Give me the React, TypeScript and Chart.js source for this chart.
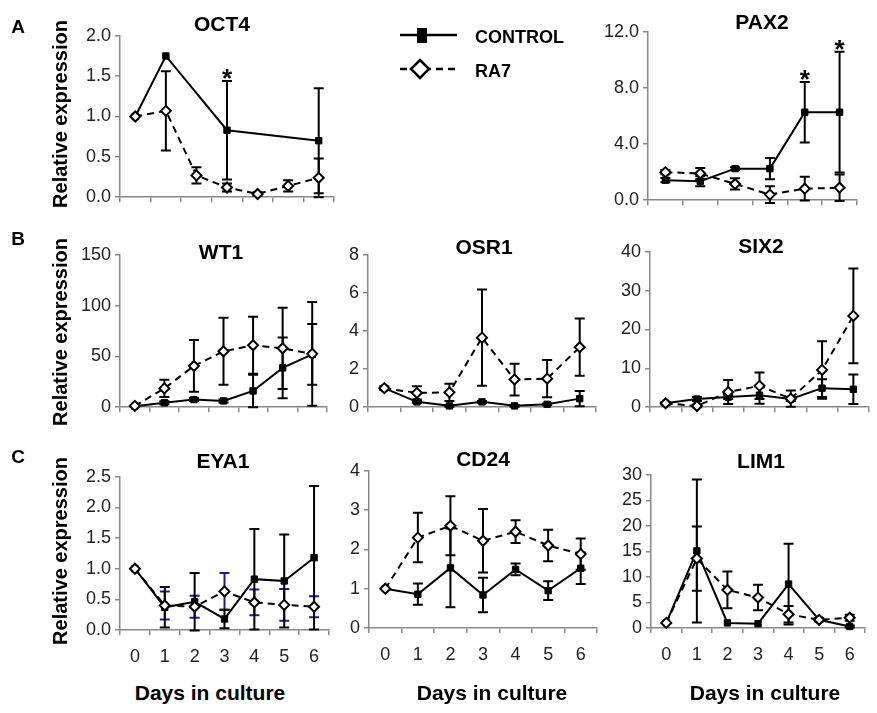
import React, { useEffect, useRef } from 'react';
import { Chart, registerables } from 'chart.js';
Chart.register(...registerables);

// ---------- data ----------
const days7 = ['0', '1', '2', '3', '4', '5', '6'];
const days6 = ['0', '1', '2', '3', '4', '5'];

const oct4Control = [1.0, 1.75, null, 0.83, null, null, 0.7];
const oct4ControlErr = [0, 0, null, 0.61, null, null, 0.65];
const oct4Ra7 = [1.0, 1.07, 0.27, 0.12, 0.04, 0.14, 0.24];
const oct4Ra7Err = [0, 0.49, 0.1, 0.05, 0.02, 0.07, 0.24];
const oct4Sig = [3];

const pax2Control = [1.43, 1.35, 2.25, 2.25, 6.27, 6.27];
const pax2ControlErr = [0.15, 0.35, 0.1, 0.75, 2.15, 4.3];
const pax2Ra7 = [2.0, 1.9, 1.16, 0.4, 0.82, 0.89];
const pax2Ra7Err = [0.15, 0.4, 0.4, 0.6, 0.85, 0.95];
const pax2Sig = [4, 5];

const wt1Control = [1, 4.4, 7.5, 6.2, 16, 38.7, 52];
const wt1ControlErr = [0, 1.5, 1.5, 1.5, 16, 30, 30];
const wt1Ra7 = [1.3, 18.5, 40.6, 55, 61, 58, 52.5];
const wt1Ra7Err = [0.5, 8.5, 25.5, 33, 28, 40, 51];

const osr1Control = [1.0, 0.28, 0.07, 0.28, 0.07, 0.15, 0.45];
const osr1ControlErr = [0, 0.05, 0.05, 0.05, 0.05, 0.05, 0.4];
const osr1Ra7 = [1.0, 0.75, 0.78, 3.65, 1.45, 1.5, 3.15];
const osr1Ra7Err = [0.1, 0.35, 0.45, 2.53, 0.83, 0.98, 1.5];

const six2Control = [1.0, 2.1, 2.6, 3.1, 2.1, 4.9, 4.6];
const six2ControlErr = [0.3, 0.5, 0.5, 2.2, 0.5, 2.3, 3.8];
const six2Ra7 = [1.0, 0.3, 3.9, 5.5, 2.2, 9.6, 23.5];
const six2Ra7Err = [0.3, 0.3, 3.1, 3.4, 2.1, 7.4, 12.2];

const eya1Control = [1.0, 0.37, 0.46, 0.18, 0.83, 0.8, 1.18];
const eya1ControlErr = [0, 0.33, 0.47, 0.15, 0.82, 0.76, 1.17];
const eya1Ra7 = [1.0, 0.4, 0.38, 0.63, 0.45, 0.41, 0.38];
const eya1Ra7Err = [0, 0.23, 0.18, 0.3, 0.21, 0.26, 0.17];

const cd24Control = [1.0, 0.86, 1.53, 0.84, 1.49, 0.95, 1.52];
const cd24ControlErr = [0, 0.27, 1.0, 0.44, 0.15, 0.24, 0.4];
const cd24Ra7 = [1.0, 2.3, 2.6, 2.22, 2.45, 2.1, 1.88];
const cd24Ra7Err = [0, 0.63, 0.75, 0.81, 0.29, 0.4, 0.4];

const lim1Control = [1.0, 15.1, 1.0, 0.84, 8.6, 1.6, 0.3];
const lim1ControlErr = [0, 14, 0, 0, 7.9, 0.3, 0.2];
const lim1Ra7 = [1.0, 13.6, 7.45, 5.96, 2.7, 1.6, 2.0];
const lim1Ra7Err = [0, 6.3, 3.6, 2.5, 1.6, 0.3, 0.6];

// ---------- layout ----------
const FONT = '"Liberation Sans", Arial, sans-serif';
const YW = 50;
const PT = 14;
const PR = 4;
const TICK_SIZE = 18;

type Spec = {
  title: string;
  labels: string[];
  control: (number | null)[];
  controlErr: (number | null)[];
  ra7: (number | null)[];
  ra7Err: (number | null)[];
  ra7ErrColor?: string;
  yMax: number;
  yStep: number;
  dec: number;
  showX: boolean;
  sig?: number[];
  plot: { l: number; t: number; r: number; b: number };
  titlePos: { x: number; y: number };
};

const specs: Spec[] = [
  { title: 'OCT4', labels: days7, control: oct4Control, controlErr: oct4ControlErr, ra7: oct4Ra7, ra7Err: oct4Ra7Err, yMax: 2, yStep: 0.5, dec: 1, showX: false, sig: oct4Sig, plot: { l: 120, t: 35, r: 337, b: 204 }, titlePos: { x: 222, y: 23 } },
  { title: 'PAX2', labels: days6, control: pax2Control, controlErr: pax2ControlErr, ra7: pax2Ra7, ra7Err: pax2Ra7Err, yMax: 12, yStep: 4, dec: 1, showX: false, sig: pax2Sig, plot: { l: 648, t: 31, r: 860, b: 207 }, titlePos: { x: 762, y: 21 } },
  { title: 'WT1', labels: days7, control: wt1Control, controlErr: wt1ControlErr, ra7: wt1Ra7, ra7Err: wt1Ra7Err, yMax: 150, yStep: 50, dec: 0, showX: false, plot: { l: 120, t: 254, r: 330, b: 414 }, titlePos: { x: 221, y: 251 } },
  { title: 'OSR1', labels: days7, control: osr1Control, controlErr: osr1ControlErr, ra7: osr1Ra7, ra7Err: osr1Ra7Err, yMax: 8, yStep: 2, dec: 0, showX: false, plot: { l: 368, t: 254, r: 599, b: 414 }, titlePos: { x: 484, y: 246 } },
  { title: 'SIX2', labels: days7, control: six2Control, controlErr: six2ControlErr, ra7: six2Ra7, ra7Err: six2Ra7Err, yMax: 40, yStep: 10, dec: 0, showX: false, plot: { l: 650, t: 251, r: 872, b: 414 }, titlePos: { x: 761, y: 245 } },
  { title: 'EYA1', labels: days7, control: eya1Control, controlErr: eya1ControlErr, ra7: eya1Ra7, ra7Err: eya1Ra7Err, ra7ErrColor: '#1c1c8a', yMax: 2.5, yStep: 0.5, dec: 1, showX: true, plot: { l: 120, t: 476, r: 332, b: 630 }, titlePos: { x: 223, y: 460 } },
  { title: 'CD24', labels: days7, control: cd24Control, controlErr: cd24ControlErr, ra7: cd24Ra7, ra7Err: cd24Ra7Err, yMax: 4, yStep: 1, dec: 0, showX: true, plot: { l: 369, t: 470, r: 600, b: 628 }, titlePos: { x: 483, y: 458 } },
  { title: 'LIM1', labels: days7, control: lim1Control, controlErr: lim1ControlErr, ra7: lim1Ra7, ra7Err: lim1Ra7Err, yMax: 30, yStep: 5, dec: 0, showX: true, plot: { l: 651, t: 474, r: 868, b: 628 }, titlePos: { x: 761, y: 460 } },
];

const errorBarPlugin = {
  id: 'errorBars',
  beforeDatasetsDraw(chart: any) {
    const ctx = chart.ctx;
    const ys = chart.scales.y;
    chart.data.datasets.forEach((ds: any, i: number) => {
      const errs = ds.errors;
      if (!errs) return;
      const meta = chart.getDatasetMeta(i);
      ctx.save();
      ctx.strokeStyle = ds.errorColor || '#000';
      ctx.lineWidth = 2;
      ctx.setLineDash([]);
      meta.data.forEach((pt: any, j: number) => {
        const v = ds.data[j];
        const e = errs[j];
        if (v == null || !e) return;
        const x = pt.x;
        const yHi = ys.getPixelForValue(v + e);
        const yLo = ys.getPixelForValue(v - e);
        ctx.beginPath();
        ctx.moveTo(x, yHi);
        ctx.lineTo(x, yLo);
        ctx.moveTo(x - 5, yHi);
        ctx.lineTo(x + 5, yHi);
        ctx.moveTo(x - 5, yLo);
        ctx.lineTo(x + 5, yLo);
        ctx.stroke();
      });
      ctx.restore();
    });
  },
  afterDatasetsDraw(chart: any) {
    const sig: number[] | undefined = chart.options.plugins.errorBars?.sig;
    if (!sig) return;
    const ctx = chart.ctx;
    const ys = chart.scales.y;
    const ds: any = chart.data.datasets.find((d: any) => d.label === 'CONTROL');
    const idx = chart.data.datasets.indexOf(ds);
    const meta = chart.getDatasetMeta(idx);
    ctx.save();
    ctx.fillStyle = '#000';
    ctx.font = 'bold 26px ' + FONT;
    ctx.textAlign = 'center';
    ctx.textBaseline = 'alphabetic';
    sig.forEach((j) => {
      const v = ds.data[j];
      const e = ds.errors[j] || 0;
      const top = ys.getPixelForValue(v + e);
      ctx.fillText('*', meta.data[j].x, top + 6);
    });
    ctx.restore();
  },
};

function Panel({ spec }: { spec: Spec }) {
  const ref = useRef<HTMLCanvasElement>(null);
  const XH = spec.showX ? 40 : 8;
  const { l, t, r, b } = spec.plot;
  const w = r - l + YW + PR;
  const h = b - t + PT + XH;
  useEffect(() => {
    if (!ref.current) return;
    const chart = new Chart(ref.current, {
      type: 'line',
      data: {
        labels: spec.labels,
        datasets: [
          {
            label: 'RA7',
            data: spec.ra7,
            errors: spec.ra7Err,
            errorColor: spec.ra7ErrColor || '#000',
            borderColor: '#000',
            borderWidth: 2,
            borderDash: [7, 5],
            pointStyle: 'rectRot',
            pointRadius: 5,
            pointBackgroundColor: '#fff',
            pointBorderColor: '#000',
            pointBorderWidth: 2,
            spanGaps: true,
            tension: 0,
            clip: false,
          } as any,
          {
            label: 'CONTROL',
            data: spec.control,
            errors: spec.controlErr,
            errorColor: '#000',
            borderColor: '#000',
            borderWidth: 2,
            pointStyle: 'rect',
            pointRadius: 4.5,
            pointBackgroundColor: '#000',
            pointBorderColor: '#000',
            pointBorderWidth: 1,
            spanGaps: true,
            tension: 0,
            clip: false,
          } as any,
        ],
      },
      options: {
        animation: false,
        responsive: false,
        events: [],
        layout: { padding: { left: 0, top: PT, right: PR, bottom: 0 } },
        plugins: {
          legend: { display: false },
          tooltip: { enabled: false },
          errorBars: { sig: spec.sig },
        } as any,
        scales: {
          x: {
            type: 'category',
            offset: true,
            grid: { offset: true, drawOnChartArea: false, drawTicks: true, tickLength: 5, color: '#888', lineWidth: 1.5 },
            border: { display: true, color: '#888', width: 1.5 },
            ticks: { display: spec.showX, padding: 11, color: '#222', font: { family: FONT, size: TICK_SIZE }, maxRotation: 0, autoSkip: false },
            afterFit: (s: any) => { s.height = XH; },
          },
          y: {
            min: 0,
            max: spec.yMax,
            grid: { drawOnChartArea: false, drawTicks: true, tickLength: 5, color: '#888', lineWidth: 1.5 },
            border: { display: true, color: '#888', width: 1.5 },
            ticks: {
              stepSize: spec.yStep,
              padding: 4,
              color: '#222',
              font: { family: FONT, size: TICK_SIZE },
              callback: (v: any) => Number(v).toFixed(spec.dec),
            },
            afterFit: (s: any) => { s.width = YW; },
          },
        },
      } as any,
      plugins: [errorBarPlugin],
    });
    return () => chart.destroy();
  }, []);
  return (
    <canvas
      ref={ref}
      width={w}
      height={h}
      style={{ position: 'absolute', left: l - YW, top: t - PT, width: w, height: h }}
    />
  );
}

function Label({ x, y, text, size, rotate }: { x: number; y: number; text: string; size: number; rotate?: boolean }) {
  return (
    <div
      style={{
        position: 'absolute',
        left: x,
        top: y,
        transform: 'translate(-50%, -50%)' + (rotate ? ' rotate(-90deg)' : ''),
        fontFamily: FONT,
        fontWeight: 'bold',
        fontSize: size,
        lineHeight: 1,
        whiteSpace: 'nowrap',
        color: '#000',
      }}
    >
      {text}
    </div>
  );
}

export default function App() {
  return (
    <div style={{ position: 'absolute', left: 0, top: 0, width: 877, height: 713, overflow: 'hidden', background: '#fff' }}>
      {specs.map((s) => (
        <Panel key={s.title} spec={s} />
      ))}
      {specs.map((s) => (
        <Label key={'t' + s.title} x={s.titlePos.x} y={s.titlePos.y} text={s.title} size={21} />
      ))}
      <Label x={18} y={26} text="A" size={19} />
      <Label x={18} y={238} text="B" size={19} />
      <Label x={18} y={456} text="C" size={19} />
      <Label x={60} y={114} text="Relative expression" size={20} rotate />
      <Label x={60} y={332} text="Relative expression" size={20} rotate />
      <Label x={60} y={551} text="Relative expression" size={20} rotate />
      <Label x={210} y={692} text="Days in culture" size={21} />
      <Label x={492} y={692} text="Days in culture" size={21} />
      <Label x={765} y={692} text="Days in culture" size={21} />
      <svg style={{ position: 'absolute', left: 0, top: 0 }} width={877} height={120}>
        <line x1={400} y1={35} x2={457} y2={35} stroke="#000" strokeWidth={2.5} />
        <rect x={417} y={28} width={10} height={15} fill="#000" />
        <line x1={400} y1={69} x2={455} y2={69} stroke="#000" strokeWidth={2.5} strokeDasharray="7 5" />
        <polygon points="420,60 429,69 420,78 411,69" fill="#fff" stroke="#000" strokeWidth={2.5} />
      </svg>
      <div style={{ position: 'absolute', left: 475, top: 37, transform: 'translateY(-50%)', fontFamily: FONT, fontWeight: 'bold', fontSize: 18, lineHeight: 1 }}>CONTROL</div>
      <div style={{ position: 'absolute', left: 475, top: 71, transform: 'translateY(-50%)', fontFamily: FONT, fontWeight: 'bold', fontSize: 18, lineHeight: 1 }}>RA7</div>
    </div>
  );
}
